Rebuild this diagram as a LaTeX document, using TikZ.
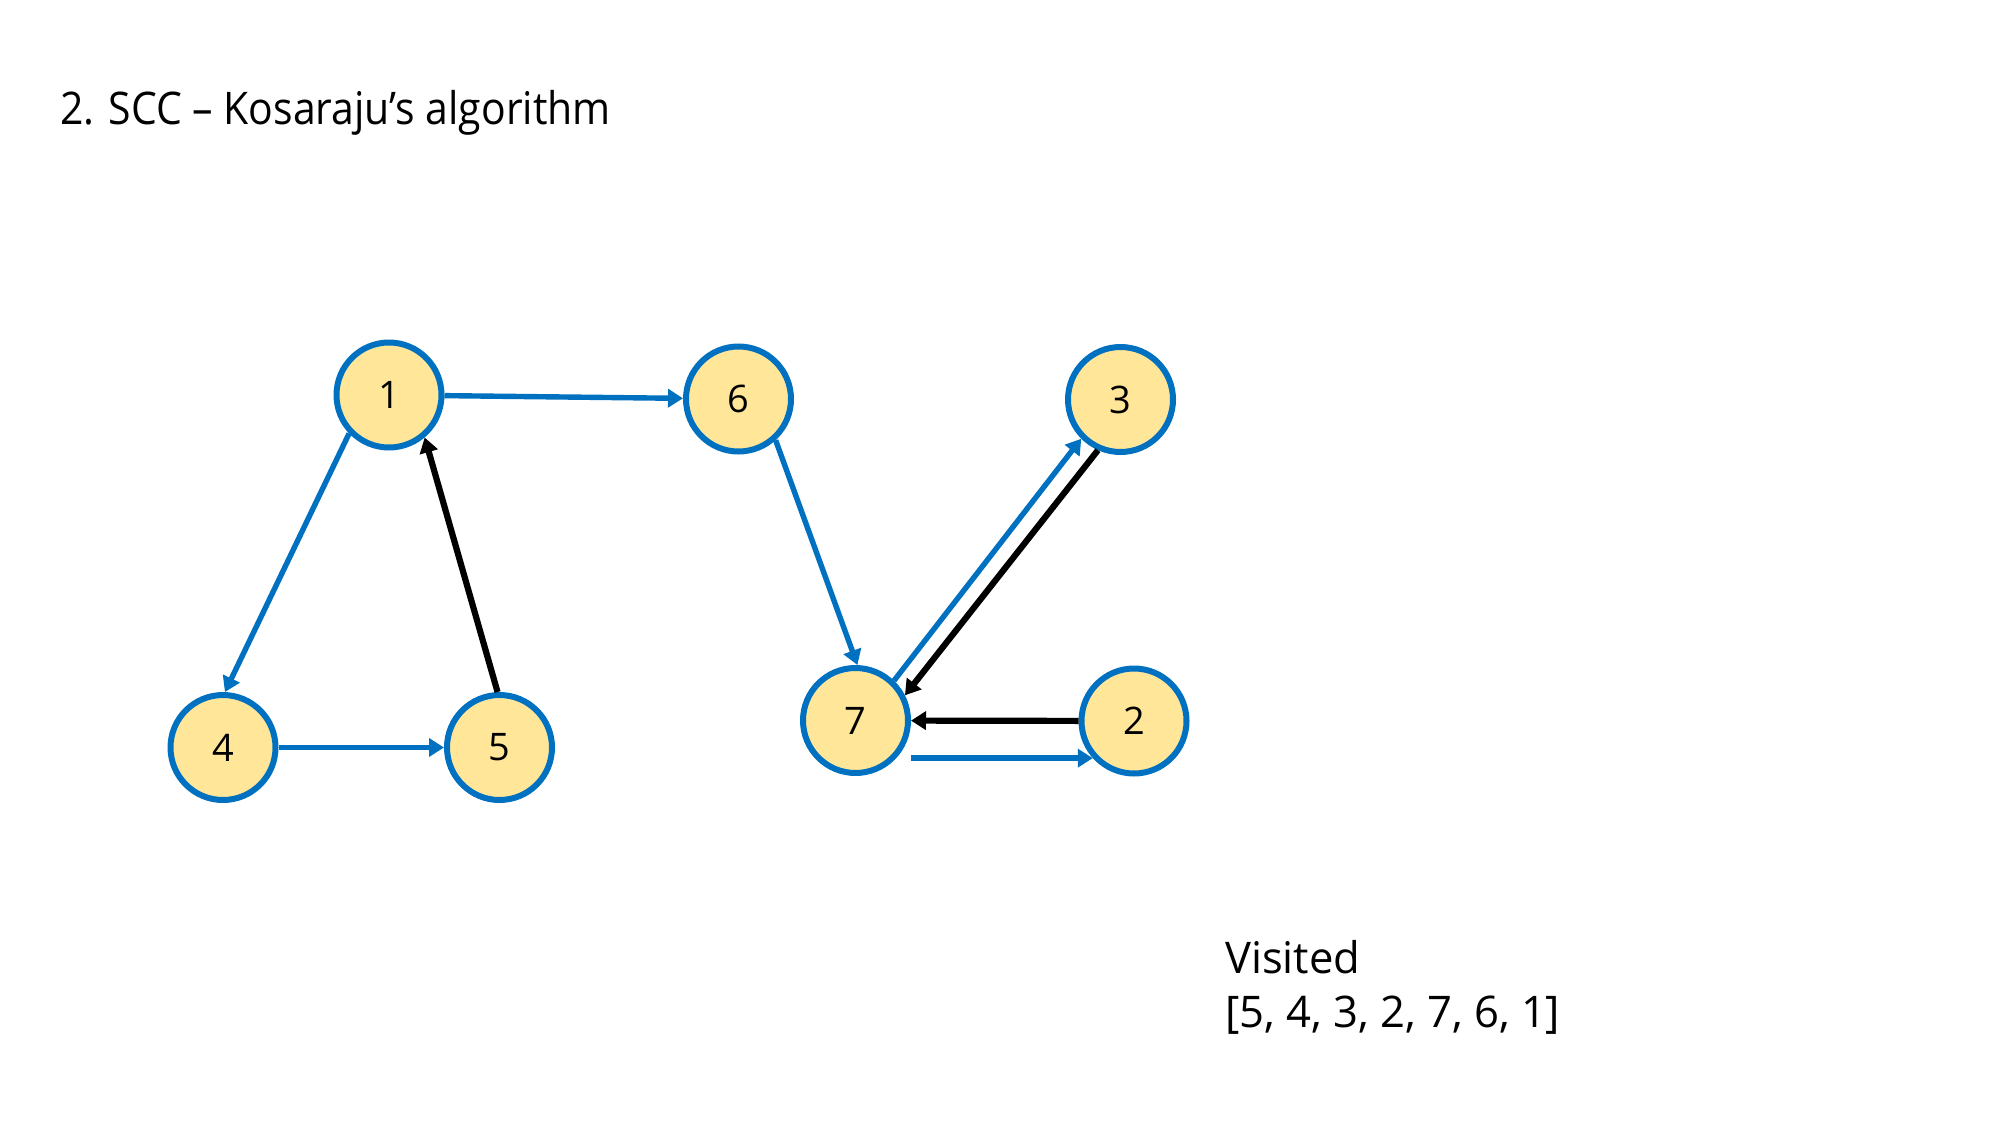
\documentclass[tikz,border=0pt]{standalone}
\usepackage{fontspec}
\setmainfont{Open Sans}
\newfontfamily\narrowfont[FakeStretch=0.91]{Open Sans}
\usetikzlibrary{arrows.meta}
\definecolor{eblue}{HTML}{0070C0}
\definecolor{nfill}{HTML}{FFE699}
\tikzset{
  vtx/.style={circle, draw=eblue, fill=nfill, line width=0.3cm, minimum size=5.25cm, inner sep=0pt, font=\fontsize{54}{60}\selectfont},
  barrow/.style={draw=eblue, line width=0.27cm, -{Triangle[length=0.75cm, width=0.9cm]}},
  karrow/.style={draw=black, line width=0.31cm, -{Triangle[length=0.75cm, width=0.9cm]}},
  txt/.style={anchor=base west, inner sep=0pt}
}
\begin{document}
\begin{tikzpicture}[x=0.05cm, y=-0.05cm]
\useasboundingbox (0,0) rectangle (2000,1125);
\node[txt, font=\narrowfont\fontsize{64}{76}\selectfont] (title) at (60,125) {2. SCC – Kosaraju’s algorithm};
\node[vtx] (n1) at (389,395) {1};
\node[vtx] (n6) at (738.5,399) {6};
\node[vtx] (n3) at (1120.5,399.5) {3};
\node[vtx] (n4) at (223,747.5) {4};
\node[vtx] (n5) at (499.5,747.5) {5};
\node[vtx] (n7) at (855.5,720.5) {7};
\node[vtx] (n2) at (1134,721) {2};
\draw[barrow] (n1) -- (n6);
\draw[barrow] (n1.224) -- (n4.88);
\draw[barrow] (n4) -- (n5);
\draw[karrow] (n5.92) -- (n1.310);
\draw[barrow] (n6.312) -- (n7.88);
\draw[barrow] (n7.46) -- (n3.225);
\draw[karrow] (n3.246) -- (n7.27);
\draw[karrow] (n2) -- (n7);
\coordinate (s72) at (n7.east |- n2.222);
\draw[barrow] (s72) -- (n2.222);
\node[txt, font=\fontsize{62}{74}\selectfont] (vis) at (1225,973) {Visited};
\node[txt, font=\fontsize{62}{74}\selectfont] (list) at (1225,1027) {[5, 4, 3, 2, 7, 6, 1]};
\end{tikzpicture}
\end{document}
